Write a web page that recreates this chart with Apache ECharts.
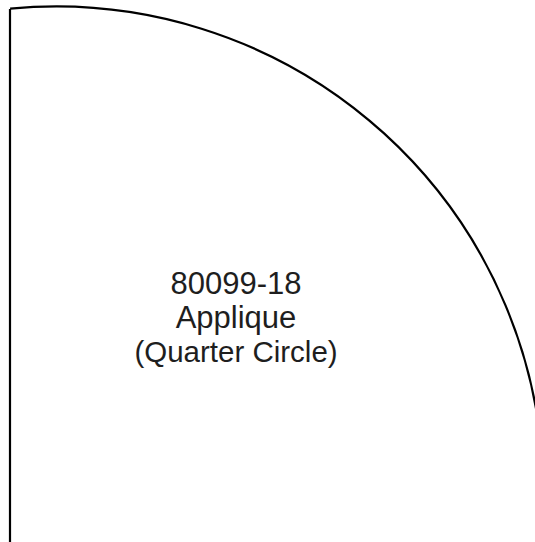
<!DOCTYPE html>
<html>
<head>
<meta charset="utf-8">
<script src="https://cdn.jsdelivr.net/npm/echarts@6/dist/echarts.min.js"></script>
<style>
html,body{margin:0;padding:0;background:#fff;}
#main{width:535px;height:542px;}
</style>
</head>
<body>
<div id="main"></div>
<script>
// Label text lines
const labelLines = ['80099-18', 'Applique', '(Quarter Circle)'];
// Straight left edge: [x, yTop, yBottom]
const edgeLine = [10, 9, 542];
// Arc: [centerX, centerY, radius, startDeg, endDeg]
const arcShape = [56, 494, 487.5, -95.4, 0];
// Axis extents
const xExtent = [0, 535];
const yExtent = [0, 542];

const chart = echarts.init(document.getElementById('main'), null, {renderer: 'svg'});

const baseFont = {
  fontFamily: 'Liberation Sans, Arial, sans-serif',
  fontWeight: 'normal',
  color: '#1e1e1e',
  lineHeight: 34
};

chart.setOption({
  animation: false,
  backgroundColor: '#ffffff',
  title: {
    text: labelLines.map(function (t, i) {
      return (i === labelLines.length - 1 ? '{b|' : '{a|') + t + '}';
    }).join('\n'),
    left: 236,
    top: 266,
    textAlign: 'center',
    padding: 0,
    textStyle: Object.assign({
      fontSize: 31,
      rich: {
        a: Object.assign({fontSize: 31}, baseFont),
        b: Object.assign({fontSize: 29.5}, baseFont)
      }
    }, baseFont)
  },
  grid: {left: 0, right: 0, top: 0, bottom: 0},
  xAxis: {type: 'value', min: xExtent[0], max: xExtent[1], show: false},
  yAxis: {type: 'value', min: yExtent[0], max: yExtent[1], inverse: true, show: false},
  series: [
    {
      type: 'custom',
      clip: false,
      silent: true,
      data: [arcShape],
      renderItem: function (params, api) {
        const c = api.coord([api.value(0), api.value(1)]);
        const r = api.size([api.value(2), 0])[0];
        return {
          type: 'arc',
          shape: {
            cx: c[0], cy: c[1], r: r,
            startAngle: api.value(3) * Math.PI / 180,
            endAngle: api.value(4) * Math.PI / 180,
            clockwise: true
          },
          style: {stroke: '#000', lineWidth: 2.2, fill: null}
        };
      }
    },
    {
      type: 'custom',
      clip: false,
      silent: true,
      data: [edgeLine],
      renderItem: function (params, api) {
        const p1 = api.coord([api.value(0), api.value(1)]);
        const p2 = api.coord([api.value(0), api.value(2)]);
        return {
          type: 'line',
          shape: {x1: p1[0], y1: p1[1], x2: p2[0], y2: p2[1]},
          style: {stroke: '#000', lineWidth: 2.2}
        };
      }
    }
  ]
});
</script>
</body>
</html>
